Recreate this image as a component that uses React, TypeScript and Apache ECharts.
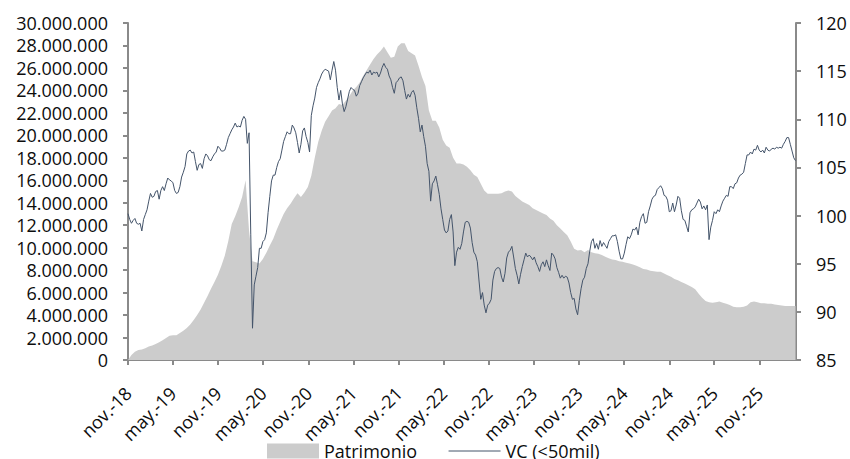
import React, { useEffect, useRef } from "react";
import * as echarts from "echarts";

// ---- data ----
const seriesStart = "2018-11-01";
const axisEnd = "2026-03-28";
const vcStepDays = 7; // weekly observations
const patStepDays = 14; // fortnightly observations

const tickDates = [
  "2018-11-01", "2019-05-01", "2019-11-01", "2020-05-01", "2020-11-01",
  "2021-05-01", "2021-11-01", "2022-05-01", "2022-11-01", "2023-05-01",
  "2023-11-01", "2024-05-01", "2024-11-01", "2025-05-01", "2025-11-01",
];
const tickLabels = [
  "nov.-18", "may.-19", "nov.-19", "may.-20", "nov.-20",
  "may.-21", "nov.-21", "may.-22", "nov.-22", "may.-23",
  "nov.-23", "may.-24", "nov.-24", "may.-25", "nov.-25",
];

const seriesNames = ["Patrimonio", "VC (<50mil)"];

// VC (<50mil), weekly
const vcValues = [
  100.2, 99.6, 99.2, 99.5, 99.7, 99.2, 99.1, 99.2, 98.4, 99.6,
  100.1, 100.6, 101.5, 102.3, 101.9, 102.0, 102.5, 102.6, 101.7, 102.6,
  103.0, 102.6, 103.3, 103.9, 103.7, 103.6, 103.4, 102.6, 102.3, 102.4,
  103.0, 104.0, 104.5, 105.1, 106.4, 106.7, 106.8, 106.5, 106.6, 105.6,
  104.7, 105.3, 105.4, 104.9, 105.9, 106.4, 106.2, 105.8, 105.7, 106.1,
  106.4, 106.6, 107.2, 107.0, 106.7, 106.7, 106.8, 107.4, 108.1, 108.5,
  108.9, 109.2, 109.6, 109.2, 109.3, 109.2, 109.9, 110.3, 110.0, 107.5,
  108.6, 98.0, 88.3, 92.8, 93.7, 94.6, 96.6, 96.6, 97.3, 97.5,
  98.2, 100.3, 102.0, 103.6, 104.2, 104.2, 105.0, 105.6, 105.9, 106.8,
  107.7, 108.2, 108.7, 108.5, 108.5, 109.4, 109.1, 108.6, 107.6, 106.5,
  107.4, 108.8, 109.1, 108.2, 107.6, 106.6, 110.4, 111.4, 112.2, 113.3,
  113.8, 114.2, 114.7, 115.0, 115.2, 115.1, 115.0, 114.1, 115.1, 116.0,
  115.1, 113.3, 112.0, 113.0, 111.6, 110.8, 111.3, 112.1, 112.9, 113.3,
  113.1, 113.0, 112.4, 112.7, 113.5, 113.9, 114.3, 114.6, 114.9, 114.8,
  115.1, 114.6, 114.9, 114.8, 114.9, 114.4, 114.8, 115.4, 115.8, 115.4,
  115.2, 114.5, 114.1, 113.3, 112.7, 113.8, 114.0, 114.3, 114.4, 114.0,
  113.0, 112.1, 112.6, 112.3, 112.8, 113.0, 112.5, 111.2, 110.1, 108.7,
  109.4, 108.2, 107.2, 105.4, 104.6, 101.5, 103.3, 103.6, 104.1, 103.2,
  102.2, 100.7, 99.6, 98.5, 98.2, 98.4, 99.6, 100.1, 98.3, 94.8,
  96.2, 96.7, 96.5, 97.1, 98.3, 99.3, 99.4, 99.3, 98.7, 97.2,
  96.2, 95.9, 95.2, 93.2, 91.3, 92.0, 90.7, 89.9, 90.7, 90.9,
  91.3, 93.3, 94.2, 94.5, 94.6, 94.5, 93.6, 93.1, 94.0, 95.6,
  96.2, 96.4, 96.8, 95.7, 94.5, 93.8, 92.9, 93.9, 94.7, 95.4,
  96.1, 95.7, 95.9, 95.7, 95.4, 95.7, 95.1, 94.7, 94.2, 94.9,
  95.2, 94.7, 95.4, 94.8, 94.3, 96.1, 95.9, 95.5, 94.6, 94.1,
  93.5, 93.8, 93.5, 93.7, 93.6, 93.0, 92.0, 91.3, 91.4, 90.3,
  89.7, 91.2, 92.4, 93.3, 93.6, 94.5, 95.0, 96.3, 97.3, 97.6,
  96.6, 97.1, 96.5, 97.4, 96.8, 97.2, 96.9, 96.6, 97.3, 97.6,
  97.9, 97.9, 98.0, 97.3, 96.3, 95.5, 95.5, 96.1, 97.0, 97.8,
  97.6, 98.0, 98.6, 98.5, 98.8, 98.0, 99.3, 99.9, 100.2, 99.2,
  99.3, 100.4, 101.0, 101.7, 102.0, 102.1, 102.7, 102.9, 103.1, 102.8,
  102.1, 102.0, 101.6, 100.4, 100.5, 101.3, 100.4, 101.1, 102.0, 101.8,
  100.5, 99.6, 99.5, 98.9, 98.3, 100.3, 100.6, 100.7, 100.9, 101.3,
  101.7, 101.4, 100.7, 101.0, 100.6, 101.1, 97.5, 98.8, 99.5, 100.4,
  100.2, 100.6, 100.4, 101.0, 101.5, 101.8, 102.1, 102.0, 103.0, 103.0,
  102.8, 103.3, 103.4, 103.9, 104.2, 104.3, 104.5, 105.4, 106.3, 106.3,
  106.6, 106.4, 106.9, 106.8, 107.3, 106.8, 106.6, 106.8, 106.5, 107.1,
  106.8, 106.7, 106.9, 107.0, 106.9, 107.1, 107.0, 107.1, 107.0, 107.4,
  107.7, 108.1, 108.1, 107.4, 106.7, 106.0, 105.7,
];

// Patrimonio, fortnightly, in millions
const patrimonioUnit = 1000000;
const patrimonioMillions = [
  0.0, 0.45, 0.74, 0.9, 0.93, 1.05, 1.2, 1.3, 1.42, 1.58,
  1.75, 1.95, 2.15, 2.2, 2.2, 2.4, 2.6, 2.85, 3.15, 3.55,
  4.0, 4.5, 5.1, 5.7, 6.35, 6.95, 7.6, 8.4, 9.3, 10.6,
  12.1, 12.8, 13.6, 14.5, 16.0, 11.5, 8.8, 8.7, 8.6, 9.0,
  9.55, 10.2, 10.8, 11.6, 12.3, 13.0, 13.5, 13.9, 14.4, 14.85,
  14.5, 14.9, 15.4, 16.4, 18.0, 19.4, 20.4, 21.2, 21.7, 22.2,
  22.4, 22.8, 22.7, 23.1, 23.5, 24.0, 24.3, 24.7, 25.3, 25.8,
  26.3, 26.8, 27.2, 27.5, 27.9, 27.4, 26.9, 27.0, 27.9, 28.2,
  28.2, 27.5, 27.3, 27.1, 26.2, 25.2, 24.4, 22.2, 21.3, 21.3,
  20.7, 19.6, 19.1, 18.9, 18.0, 17.5, 17.5, 17.4, 17.2, 16.9,
  16.5, 16.3, 15.7, 15.1, 14.8, 14.8, 14.8, 14.8, 14.85, 15.0,
  15.1, 15.0, 14.6, 14.35, 14.1, 13.95, 13.8, 13.5, 13.35, 13.2,
  13.05, 12.9, 12.6, 12.4, 12.0, 11.7, 11.4, 11.1, 10.55, 9.9,
  9.75, 9.8, 9.6, 9.8, 9.6, 9.5, 9.45, 9.35, 9.2, 9.05,
  8.95, 8.9, 8.8, 8.75, 8.65, 8.6, 8.5, 8.4, 8.25, 8.1,
  8.05, 7.95, 7.9, 7.85, 7.85, 7.7, 7.55, 7.4, 7.2, 7.1,
  6.95, 6.8, 6.65, 6.5, 6.3, 5.9, 5.55, 5.25, 5.15, 5.1,
  5.15, 5.2, 5.1, 5.0, 4.9, 4.75, 4.7, 4.7, 4.75, 4.85,
  5.15, 5.2, 5.15, 5.05, 5.05, 5.0, 5.0, 4.95, 4.9, 4.85,
  4.8, 4.8, 4.8, 4.8,
];

// ---- helpers ----
const DAY_MS = 86400000;
const ts = (d: string) => Date.parse(d + "T00:00:00Z");

const FONT = "Open Sans";
const TEXT = "#0d0d0d";
const AXIS = "#8a8a8a";
const AREA = "#cccccc";
const LINE = "#44546a";

export default function App() {
  const ref = useRef<HTMLDivElement>(null);

  useEffect(() => {
    if (!ref.current) return;
    const chart = echarts.init(ref.current, undefined, { renderer: "svg" });
    const start = ts(seriesStart);
    const tickTs = tickDates.map(ts);

    const vcData = vcValues.map((v, i) => [start + i * vcStepDays * DAY_MS, v]);
    const patData = patrimonioMillions.map((v, i) => [
      start + i * patStepDays * DAY_MS,
      v * patrimonioUnit,
    ]);

    const dotThousands = (v: number) =>
      String(Math.round(v)).replace(/\B(?=(\d{3})+(?!\d))/g, ".");

    const labelFor = (v: number) => {
      let best = 0;
      for (let i = 1; i < tickTs.length; i++) {
        if (Math.abs(tickTs[i] - v) < Math.abs(tickTs[best] - v)) best = i;
      }
      return Math.abs(tickTs[best] - v) < 5 * DAY_MS ? tickLabels[best] : "";
    };

    const textStyle = { fontFamily: FONT, fontSize: 18, color: TEXT };

    chart.setOption({
      animation: false,
      textStyle: { fontFamily: FONT },
      grid: { left: 128, right: 54, top: 23, bottom: 99 },
      legend: {
        left: 267,
        top: 442,
        padding: 0,
        itemWidth: 52,
        itemHeight: 15,
        itemGap: 31,
        textStyle: { ...textStyle },
        data: [
          { name: seriesNames[0], icon: "rect", itemStyle: { color: AREA } },
          {
            name: seriesNames[1],
            itemStyle: { opacity: 0, borderWidth: 0 },
            lineStyle: { width: 1, color: LINE },
          },
        ],
      },
      xAxis: {
        type: "value",
        min: ts(seriesStart),
        max: ts(axisEnd),
        axisLine: { onZero: false, lineStyle: { color: AXIS, width: 2 } },
        axisTick: {
          show: true,
          customValues: tickTs,
          length: 5,
          lineStyle: { color: AXIS, width: 2 },
        },
        axisLabel: {
          customValues: tickTs,
          rotate: 45,
          margin: 30,
          ...textStyle,
          formatter: (v: number) => labelFor(v),
        },
        splitLine: { show: false },
      },
      yAxis: [
        {
          type: "value",
          position: "left",
          min: 0,
          max: 30000000,
          interval: 2000000,
          axisLine: { show: true, lineStyle: { color: AXIS, width: 2 } },
          axisTick: { show: true, length: 5, lineStyle: { color: AXIS, width: 2 } },
          axisLabel: { margin: 20, ...textStyle, formatter: dotThousands },
          splitLine: { show: false },
        },
        {
          type: "value",
          position: "right",
          min: 85,
          max: 120,
          interval: 5,
          axisLine: { show: true, lineStyle: { color: AXIS, width: 2 } },
          axisTick: { show: true, length: 5, lineStyle: { color: AXIS, width: 2 } },
          axisLabel: { margin: 20, ...textStyle },
          splitLine: { show: false },
        },
      ],
      series: [
        {
          name: seriesNames[0],
          type: "line",
          yAxisIndex: 0,
          data: patData,
          symbol: "none",
          color: AREA,
          itemStyle: { color: AREA },
          lineStyle: { width: 0, color: AREA },
          areaStyle: { color: AREA, opacity: 1 },
          z: 1,
        },
        {
          name: seriesNames[1],
          type: "line",
          yAxisIndex: 1,
          data: vcData,
          symbol: "none",
          color: LINE,
          itemStyle: { color: LINE },
          lineStyle: { width: 1, color: LINE },
          z: 2,
        },
      ],
    });

    return () => chart.dispose();
  }, []);

  return (
    <div
      ref={ref}
      style={{ position: "fixed", left: 0, top: 0, width: 850, height: 459, background: "#fff" }}
    />
  );
}
